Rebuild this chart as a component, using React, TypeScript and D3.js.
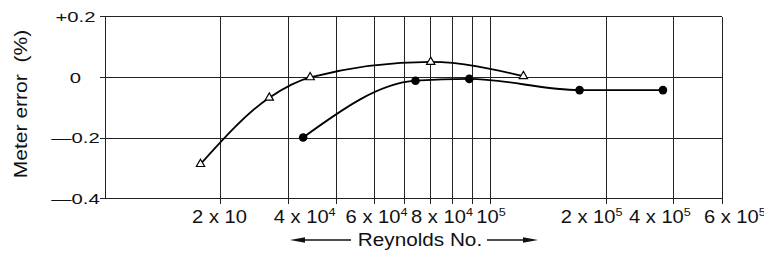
import React from 'react';
import * as d3 from 'd3';

// meter calibration, error vs Reynolds number (log axis)
const triRe = [1.77e4, 2.67e4, 3.41e4, 7.01e4, 1.22e5];
const triErr = [-0.286, -0.067, 0.0, 0.051, 0.004];
const dotRe = [3.27e4, 6.4e4, 8.83e4, 1.707e5, 2.81e5];
const dotErr = [-0.198, -0.011, -0.005, -0.042, -0.042];

const xGrid = [2e4, 3e4, 4e4, 5e4, 6e4, 7e4, 8e4, 9e4, 1e5, 2e5, 3e5];
const yTicks = [0.2, 0, -0.2, -0.4];
const yTickLabels = ['+0.2', '0', '\u20140.2', '\u20140.4'];

// tick labels as printed (they sit a bit off their grid lines)
const xLabelText = ['2 x 10', '4 x 10', '6 x 10', '8 x 10', '10', '2 x 10', '4 x 10', '6 x 10'];
const xLabelExp = ['', '4', '4', '4', '5', '5', '5', '5'];
const xLabelAt = [1.983e4, 3.3e4, 5.07e4, 7.5e4, 1.005e5, 1.834e5, 2.76e5, 4.32e5];

const W = 764, H = 256;
const left = 105, right = 722, top = 16.7, bottom = 198.7;
const font = '"Liberation Sans", Arial, Helvetica, sans-serif';

const App: React.FC = () => {
    const x = d3.scaleLog().domain([1e4, 4e5]).range([left, right]);
    const y = d3.scaleLinear().domain([-0.4, 0.2]).range([bottom, top]);
    const line = d3.line<[number, number]>()
        .x(d => x(d[0]))
        .y(d => y(d[1]))
        .curve(d3.curveMonotoneX);
    const tri: [number, number][] = triRe.map((r, i) => [r, triErr[i]]);
    const dot: [number, number][] = dotRe.map((r, i) => [r, dotErr[i]]);
    const triangle = d3.symbol(d3.symbolTriangle, 30)();

    return (
        <svg width={W} height={H} style={{ position: 'absolute', left: 0, top: 0, background: '#fff' }}
            fontFamily={font} fill="#111">
            {/* grid */}
            <g stroke="#222" strokeWidth={1} shapeRendering="crispEdges">
                {yTicks.map(t => (
                    <line key={t} x1={left - 5} x2={right} y1={y(t)} y2={y(t)} />
                ))}
                <line x1={left} x2={left} y1={top} y2={bottom} />
                {[...xGrid, 4e5].map(v => (
                    <line key={v} x1={x(v)} x2={x(v)} y1={top} y2={bottom + 5} />
                ))}
            </g>

            {/* y tick labels */}
            {yTicks.map((t, i) => (
                <text key={t} transform={`translate(75.5,${y(t) + 5.4}) scale(1.35,1)`}
                    textAnchor="middle" fontSize={15}>{yTickLabels[i]}</text>
            ))}

            {/* x tick labels */}
            {xLabelAt.map((v, i) => (
                <text key={i} transform={`translate(${x(v)},222.7) scale(1.15,1)`}
                    textAnchor="middle" fontSize={17.5}>
                    {xLabelText[i]}
                    {xLabelExp[i] && <tspan dy={-6.5} fontSize={11}>{xLabelExp[i]}</tspan>}
                </text>
            ))}

            {/* axis titles */}
            <text transform="translate(26.5,104) rotate(-90) scale(1.17,1)" textAnchor="middle"
                fontSize={18}>{'Meter error \u00a0(%)'}</text>
            <text transform="translate(420,246) scale(1.12,1)" textAnchor="middle"
                fontSize={18.5}>Reynolds No.</text>
            <g stroke="#111" strokeWidth={1.3}>
                <line x1={300} x2={351} y1={240} y2={240} />
                <line x1={487} x2={528} y1={240} y2={240} />
            </g>
            <polygon points="290,240 305,237.3 305,242.7" fill="#111" />
            <polygon points="538,240 523,237.3 523,242.7" fill="#111" />

            {/* curves */}
            <g fill="none" stroke="#000" strokeWidth={1.8}>
                <path d={line(tri) ?? ''} />
                <path d={line(dot) ?? ''} />
            </g>
            {tri.map((d, i) => (
                <path key={i} d={triangle ?? ''} transform={`translate(${x(d[0])},${y(d[1])})`}
                    fill="#fff" stroke="#000" strokeWidth={1.2} />
            ))}
            {dot.map((d, i) => (
                <circle key={i} cx={x(d[0])} cy={y(d[1])} r={4.3} fill="#000" />
            ))}
        </svg>
    );
};

export default App;
